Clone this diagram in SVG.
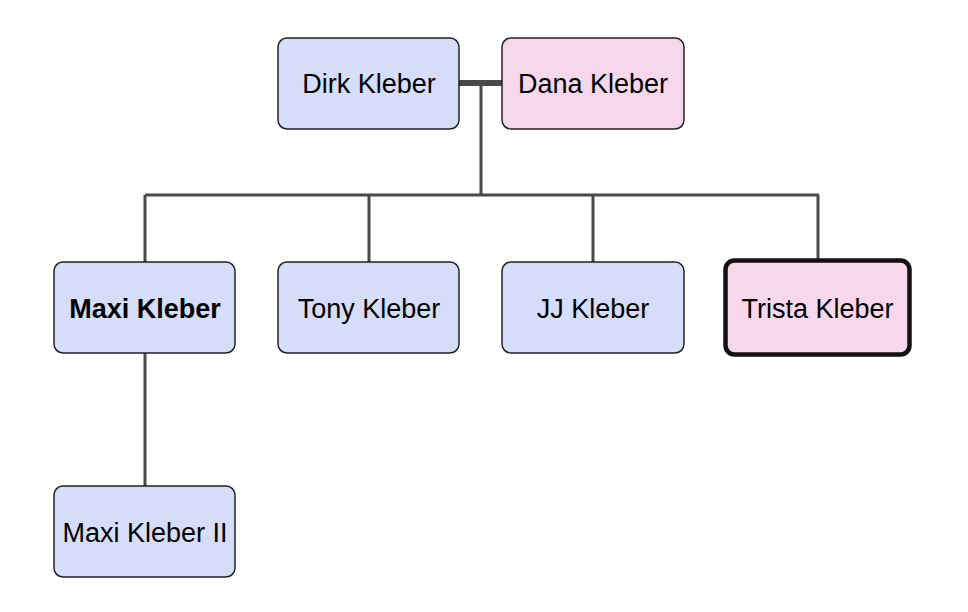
<svg xmlns="http://www.w3.org/2000/svg" width="968" height="612" viewBox="0 0 968 612">
<style>
.m rect{fill:#d6ddf9;stroke:#222;stroke-width:1.5}
.f rect{fill:#f6d7ec;stroke:#222;stroke-width:1.5}
text{font-family:"Liberation Sans",Arial,sans-serif;font-size:27px;fill:#000;text-anchor:middle;dominant-baseline:central}
.c line{stroke:#4a4a4a;stroke-width:3;fill:none}
</style>
<rect width="968" height="612" fill="#fff"/>
<g class="c" id="connectors">
<line x1="459" y1="83" x2="502" y2="83" style="stroke-width:6"/>
<line x1="481" y1="83" x2="481" y2="195"/>
<line x1="145" y1="195" x2="819" y2="195"/>
<line x1="145" y1="195" x2="145" y2="262"/>
<line x1="369" y1="195" x2="369" y2="262"/>
<line x1="593" y1="195" x2="593" y2="262"/>
<line x1="818" y1="195" x2="818" y2="261"/>
<line x1="145" y1="353" x2="145" y2="486"/>
</g>
<g id="dirk" class="m"><rect x="278" y="38" width="181" height="91" rx="9"/><text x="369" y="84">Dirk Kleber</text></g>
<g id="dana" class="f"><rect x="502" y="38" width="182" height="91" rx="9"/><text x="593" y="84">Dana Kleber</text></g>
<g id="maxi" class="m"><rect x="54" y="262" width="181" height="91" rx="9"/><text x="145" y="309" font-weight="bold">Maxi Kleber</text></g>
<g id="tony" class="m"><rect x="278" y="262" width="181" height="91" rx="9"/><text x="369" y="309">Tony Kleber</text></g>
<g id="jj" class="m"><rect x="502" y="262" width="182" height="91" rx="9"/><text x="593" y="309">JJ Kleber</text></g>
<g id="trista" class="f"><rect x="725.5" y="260.5" width="184" height="94" rx="9" style="stroke:#111;stroke-width:4.5"/><text x="817.5" y="309">Trista Kleber</text></g>
<g id="maxi2" class="m"><rect x="54" y="486" width="181" height="91" rx="9"/><text x="145" y="533">Maxi Kleber II</text></g>
</svg>
